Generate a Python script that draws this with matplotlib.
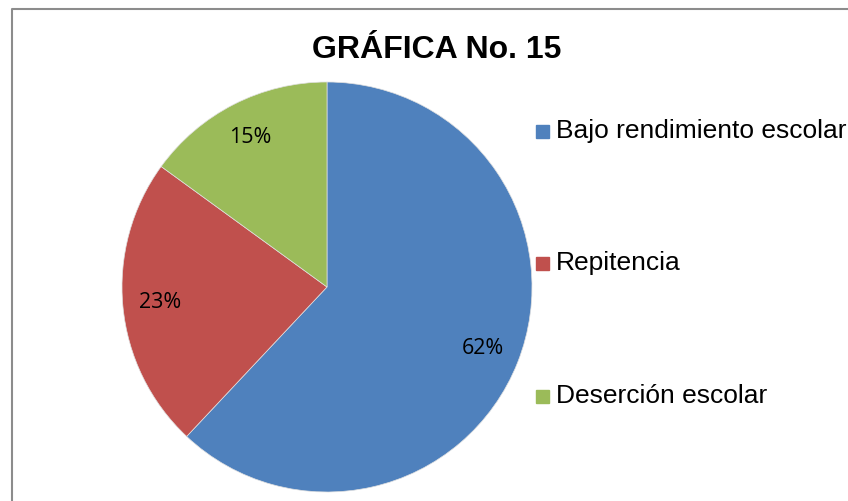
import matplotlib.pyplot as plt
from matplotlib.patches import Rectangle
from matplotlib.lines import Line2D

categories = ['Bajo rendimiento escolar', 'Repitencia', 'Deserción escolar']
values = [62, 23, 15]
colors = ['#4f81bd', '#c0504d', '#9bbb59']

W, H = 848, 501
fig = plt.figure(figsize=(W / 100, H / 100), dpi=100)

# outer chart frame: only top and left edges are visible in the original
fig.lines.append(Line2D([12 / W, 12 / W, 1.0], [0, 1 - 9 / H, 1 - 9 / H],
                        transform=fig.transFigure, color='#8c8c8c',
                        linewidth=1.5))

ax = fig.add_axes([122 / W, 9 / H, 410 / W, 410 / H])
ax.pie(values, colors=colors, startangle=90, counterclock=False,
       autopct='%d%%', pctdistance=0.82,
       wedgeprops=dict(linewidth=0.5, edgecolor='#e0e0e0'),
       textprops=dict(fontsize=15.5, family='Open Sans', color='#000000'))
ax.set_xlim(-1, 1)
ax.set_ylim(-1, 1)
ax.set_aspect('equal')

fig.text(437 / W, 1 - 50 / H, 'GRÁFICA No. 15', ha='center', va='center',
         fontsize=23, fontweight='bold', family='Liberation Sans')

# legend
ys = [131, 263, 396]
for y, name, c in zip(ys, categories, colors):
    fig.patches.append(Rectangle((536 / W, 1 - (y + 7) / H), 13 / W, 13 / H,
                                 transform=fig.transFigure, color=c))
    fig.text(556 / W, 1 - y / H, name, ha='left', va='center',
             fontsize=19, family='Liberation Sans')

plt.savefig('out.png', dpi=100)
